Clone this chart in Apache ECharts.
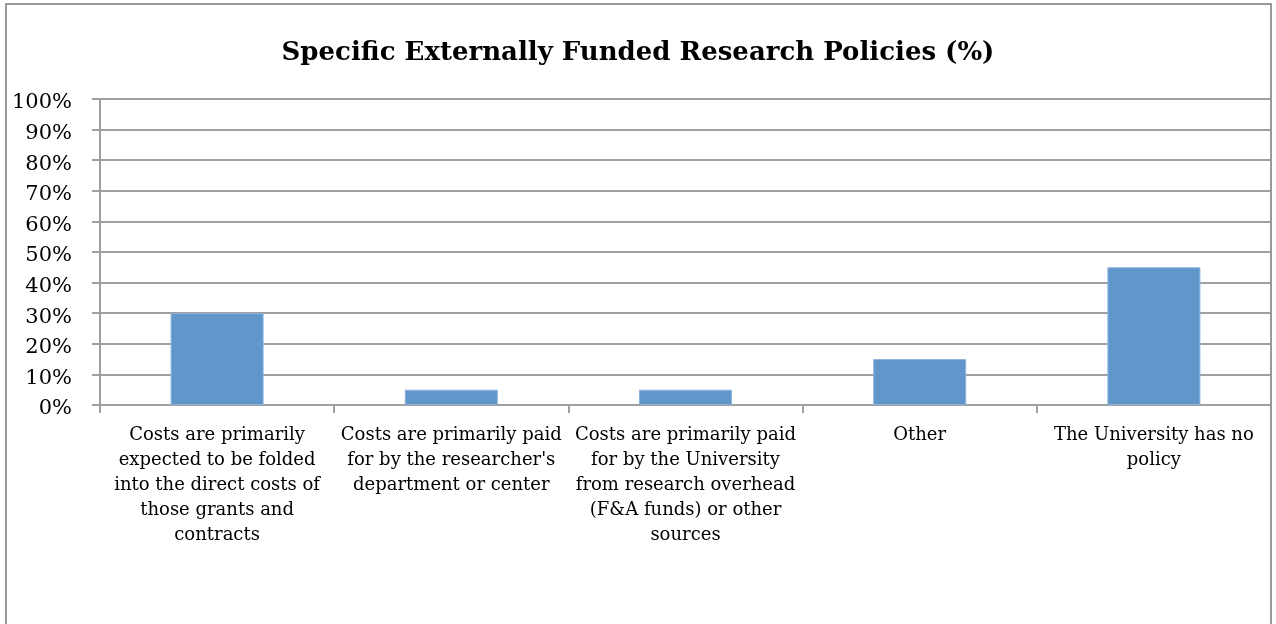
<!DOCTYPE html>
<html><head><meta charset="utf-8">
<script src="https://cdn.jsdelivr.net/npm/echarts@6/dist/echarts.min.js"></script>
<style>html,body{margin:0;padding:0;background:#fff}#c{width:1276px;height:624px}</style>
</head><body><div id="c"></div>
<script>
const titleText = 'Specific Externally Funded Research Policies (%)';
const categories = [
  'Costs are primarily\nexpected to be folded\ninto the direct costs of\nthose grants and\ncontracts',
  "Costs are primarily paid\nfor by the researcher's\ndepartment or center",
  'Costs are primarily paid\nfor by the University\nfrom research overhead\n(F&A funds) or other\nsources',
  'Other',
  'The University has no\npolicy'
];
const values = [30, 5, 5, 15, 45];
const yTicks = [0, 10, 20, 30, 40, 50, 60, 70, 80, 90, 100];

const chart = echarts.init(document.getElementById('c'));
const serif = '"DejaVu Serif", "Liberation Serif", serif';
chart.setOption({
  animation: false,
  backgroundColor: '#fff',
  title: {
    text: titleText, left: 'center', top: 35,
    textStyle: {fontFamily: serif, fontSize: 26, fontWeight: 'bold', color: '#000'}
  },
  graphic: [{
    type: 'rect', shape: {x: 6, y: 4, width: 1265, height: 700},
    style: {fill: 'none', stroke: '#999999', lineWidth: 2}, silent: true, z: 10
  }],
  grid: {left: 100, right: 5, top: 99, bottom: 219, containLabel: false},
  xAxis: {
    type: 'category', data: categories,
    axisLine: {lineStyle: {color: '#a0a0a0', width: 2}},
    axisTick: {show: true, length: 8, alignWithLabel: false, lineStyle: {color: '#a0a0a0', width: 2}},
    axisLabel: {interval: 0, margin: 18, color: '#000', fontFamily: serif, fontSize: 18, lineHeight: 25, align: 'center'}
  },
  yAxis: {
    type: 'value', min: yTicks[0], max: yTicks[yTicks.length - 1], interval: 10,
    axisLine: {show: true, lineStyle: {color: '#a0a0a0', width: 2}},
    axisTick: {show: true, length: 8, lineStyle: {color: '#a0a0a0', width: 2}},
    splitLine: {show: true, lineStyle: {color: '#a0a0a0', width: 2}},
    axisLabel: {
      margin: 28, color: '#000', fontFamily: serif, fontSize: 21,
      formatter: v => '{p|' + v + '%}',
      rich: {p: {fontFamily: serif, fontSize: 21, color: '#000', padding: [8, 0, 0, 0]}}
    }
  },
  series: [{
    type: 'bar', data: values, barWidth: 93,
    itemStyle: {color: '#6196cb', borderColor: '#8bb3dc', borderWidth: 1}
  }]
});
</script></body></html>
